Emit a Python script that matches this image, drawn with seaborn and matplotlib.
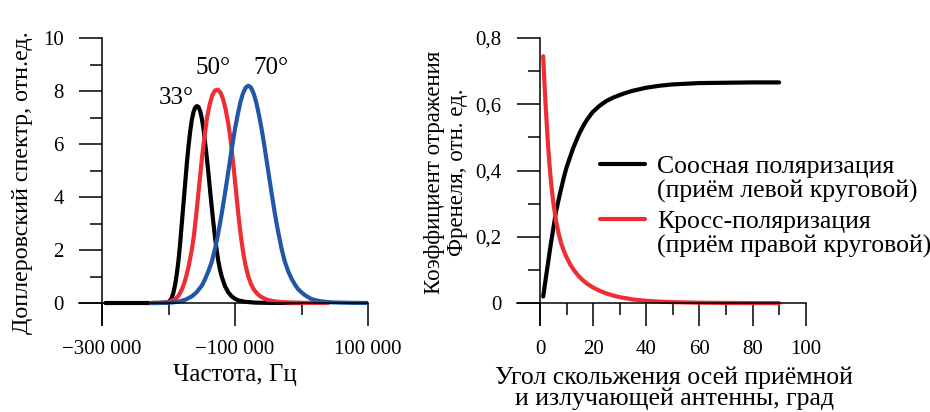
import numpy as np
import pandas as pd
import matplotlib
matplotlib.use("Agg")
import matplotlib.pyplot as plt
import seaborn as sns
from matplotlib.lines import Line2D

# ---------------- Left panel: Doppler spectra ----------------
freq_33 = [-295000, -215000, -205000, -200000, -197500, -195000, -192500, -190000,
           -187500, -185000, -182500, -180000, -177500, -175000, -172500, -170000,
           -167500, -165000, -162500, -160000, -157500, -155000, -152500, -150000,
           -147500, -145000, -142500, -140000, -137500, -135000, -132500, -130000,
           -127500, -125000, -122500, -120000, -115000, -110000, -105000, -100000,
           -95000, -85000, -70000, -50000, 0]
spec_33 = [0, 0, 0.01, 0.04, 0.1, 0.2, 0.4, 0.7,
           1.1, 1.6, 2.25, 3.0, 3.75, 4.5, 5.25, 5.9,
           6.45, 6.9, 7.2, 7.37, 7.43, 7.4, 7.25, 6.98,
           6.6, 6.05, 5.5, 4.9, 4.25, 3.62, 3.02, 2.47,
           1.98, 1.57, 1.25, 1.0, 0.63, 0.4, 0.25, 0.16,
           0.1, 0.045, 0.015, 0.005, 0]

freq_50 = [-227000, -210000, -200000, -190000, -185000, -180000, -175000, -170000,
           -165000, -162000, -160000, -157000, -155000, -152000, -150000, -147000,
           -145000, -142000, -138000, -134000, -130000, -126000, -122000, -118000,
           -114000, -110000, -107000, -105000, -102000, -99000, -96000, -93000,
           -90000, -87000, -84000, -80000, -76000, -72000, -67000, -62000,
           -56000, -50000, -40000, -30000, -15000, 0, 20000, 40000]
spec_50 = [0, 0.01, 0.04, 0.14, 0.27, 0.5, 0.85, 1.35,
           2.0, 2.5, 2.95, 3.65, 4.15, 4.9, 5.4, 6.05,
           6.45, 7.0, 7.5, 7.85, 8.02, 8.05, 7.95, 7.7,
           7.3, 6.75, 6.25, 5.8, 5.1, 4.35, 3.6, 2.9,
           2.3, 1.8, 1.4, 1.0, 0.72, 0.52, 0.36, 0.25,
           0.17, 0.11, 0.06, 0.035, 0.015, 0.007, 0.002, 0]

freq_70 = [-225000, -205000, -195000, -185000, -175000, -165000, -158000, -150000,
           -145000, -140000, -135000, -130000, -127000, -124000, -120000, -116000,
           -112000, -108000, -105000, -100000, -96000, -92000, -88000, -84000,
           -80000, -76000, -72000, -68000, -64000, -60000, -55000, -52000,
           -48000, -44000, -40000, -36000, -30000, -25000, -20000, -15000,
           -10000, -5000, 0, 5000, 10000, 15000, 22000, 30000,
           45000, 70000, 100000]
spec_70 = [0, 0.01, 0.02, 0.05, 0.12, 0.25, 0.4, 0.65,
           0.9, 1.2, 1.55, 2.05, 2.4, 2.8, 3.37, 3.99,
           4.64, 5.3, 5.8, 6.57, 7.1, 7.57, 7.91, 8.13,
           8.2, 8.13, 7.91, 7.57, 7.1, 6.57, 5.8, 5.3,
           4.64, 3.99, 3.37, 2.8, 2.05, 1.55, 1.2, 0.92,
           0.7, 0.52, 0.4, 0.3, 0.22, 0.15, 0.1, 0.06,
           0.025, 0.008, 0]

angle_labels = ["33°", "50°", "70°"]
angle_label_pos = [(-188400, 7.75), (-132600, 8.88), (-46700, 8.88)]

left_xticks = [-300000, -100000, 100000]
left_xticklabels = ["−300 000", "−100 000", "100 000"]
left_yticks = [0, 2, 4, 6, 8, 10]
left_yticklabels = ["0", "2", "4", "6", "8", "10"]

# ---------------- Right panel: Fresnel coefficients ----------------
angle_co = [1.2, 2, 3, 4, 5, 6, 7.5, 9, 10, 11.5, 12.5, 14, 15, 16.5, 17.5, 19, 20,
            22.5, 25, 27.5, 30, 32.5, 35, 40, 45, 50, 55, 60, 70, 80, 90]
refl_co = [0.02, 0.065, 0.12, 0.175, 0.225, 0.275, 0.33, 0.38, 0.41, 0.445, 0.468,
           0.497, 0.515, 0.538, 0.551, 0.568, 0.578, 0.596, 0.61, 0.62, 0.628, 0.635,
           0.641, 0.65, 0.656, 0.66, 0.662, 0.664, 0.665, 0.666, 0.666]

angle_cross = [1.2, 1.5, 1.8, 2.1, 2.4, 2.7, 3, 3.5, 4, 4.5, 5, 6, 7, 8, 9, 10, 11.5,
               13, 14.5, 16, 18, 20, 22.5, 25, 27.5, 30, 35, 40, 45, 50, 60, 70, 80, 90]
refl_cross = [0.745, 0.695, 0.645, 0.6, 0.558, 0.518, 0.48, 0.425, 0.378, 0.338, 0.303,
              0.25, 0.21, 0.18, 0.157, 0.138, 0.115, 0.097, 0.082, 0.07, 0.057, 0.047,
              0.037, 0.029, 0.023, 0.018, 0.011, 0.007, 0.0045, 0.003, 0.0013, 0.0005,
              0.0002, 0]

legend_co = ["Соосная поляризация", "(приём левой круговой)"]
legend_cross = ["Кросс-поляризация", "(приём правой круговой)"]

right_xticks = [0, 20, 40, 60, 80, 100]
right_xticklabels = ["0", "20", "40", "60", "80", "100"]
right_yticks = [0, 0.2, 0.4, 0.6, 0.8]
right_yticklabels = ["0", "0,2", "0,4", "0,6", "0,8"]

BLACK = "#000000"
RED = "#EE2E34"
BLUE = "#2256A6"

sns.set_style("ticks")
plt.rcParams['font.family'] = ['Liberation Serif', 'DejaVu Serif']
plt.rcParams['axes.edgecolor'] = 'black'
plt.rcParams['text.color'] = 'black'
plt.rcParams['xtick.color'] = 'black'
plt.rcParams['ytick.color'] = 'black'
plt.rcParams['axes.labelcolor'] = 'black'

fig = plt.figure(figsize=(9.3, 4.12), dpi=100)
ax1 = fig.add_axes([79 / 930, 87 / 412, 289 / 930, 287 / 412])
ax2 = fig.add_axes([517 / 930, 87 / 412, 288.7 / 930, 287 / 412])

LW = 3.0
df33 = pd.DataFrame({"f": freq_33, "s": spec_33})
df50 = pd.DataFrame({"f": freq_50, "s": spec_50})
df70 = pd.DataFrame({"f": freq_70, "s": spec_70})
for df, c in [(df33, BLACK), (df50, RED), (df70, BLUE)]:
    sns.lineplot(data=df, x="f", y="s", ax=ax1, color=c, linewidth=LW,
                 sort=False, estimator=None, legend=False,
                 solid_capstyle="round", solid_joinstyle="round")
for txt, (x, y) in zip(angle_labels, angle_label_pos):
    ax1.text(x, y, txt, ha="center", va="center", fontsize=18)

dfco = pd.DataFrame({"a": angle_co, "r": refl_co})
dfcr = pd.DataFrame({"a": angle_cross, "r": refl_cross})
sns.lineplot(data=dfco, x="a", y="r", ax=ax2, color=BLACK, linewidth=LW,
             sort=False, estimator=None, legend=False,
             solid_capstyle="round", solid_joinstyle="round")
sns.lineplot(data=dfcr, x="a", y="r", ax=ax2, color=RED, linewidth=LW,
             sort=False, estimator=None, legend=False,
             solid_capstyle="round", solid_joinstyle="round")

# ---- axes styling ----
ax1.set_xlim(-334600, 100000)
ax1.set_ylim(-0.83, 10)
ax2.set_xlim(-8.66, 100)
ax2.set_ylim(-0.066, 0.8)

for ax, xorig in [(ax1, -300000), (ax2, 0)]:
    ax.spines['top'].set_visible(False)
    ax.spines['right'].set_visible(False)
    ax.spines['left'].set_position(('data', xorig))
    ax.spines['bottom'].set_position(('data', 0))
    for s in ('left', 'bottom'):
        ax.spines[s].set_linewidth(1.1)
        ax.spines[s].set_color('black')
    ax.tick_params(which='major', direction='out', length=16.5, width=1.1,
                   labelsize=15, color='black')
    ax.tick_params(which='minor', direction='out', length=8.6, width=1.1, color='black')
    ax.tick_params(axis='x', which='major', pad=10)
    ax.tick_params(axis='y', which='major', pad=11)
    ax.set_facecolor('white')

ax1.set_xticks(left_xticks, labels=left_xticklabels)
ax1.set_xticks([-200000, 0], minor=True)
ax1.set_yticks(left_yticks, labels=left_yticklabels)
ax1.set_yticks([1, 3, 5, 7, 9], minor=True)

ax2.set_xticks(right_xticks, labels=right_xticklabels)
ax2.set_xticks([10, 30, 50, 70, 90], minor=True)
ax2.set_yticks(right_yticks, labels=right_yticklabels)
ax2.set_yticks([0.1, 0.3, 0.5, 0.7], minor=True)

ax1.set_xlabel("Частота, Гц", fontsize=18)
ax1.xaxis.label.set_va('center')
ax1.xaxis.set_label_coords(0.539, -0.174)
ax1.set_ylabel("Доплеровский спектр, отн.ед.", fontsize=17.3)
ax1.yaxis.label.set_va('center')
ax1.yaxis.set_label_coords(-0.197, 0.497)

ax2.set_xlabel("Угол скольжения осей приёмной\nи излучающей антенны, град",
               fontsize=18.5, linespacing=0.9)
ax2.xaxis.label.set_va('center')
ax2.xaxis.set_label_coords(0.545, -0.22)
ax2.set_ylabel("Коэффициент отражения\nФренеля, отн. ед.", fontsize=16.5, linespacing=1.12)
ax2.yaxis.label.set_va('center')
ax2.yaxis.set_label_coords(-0.246, 0.533)

leg_kw = dict(loc='upper left', frameon=False, fontsize=18.5, handlelength=1.75,
              handletextpad=0.47, labelspacing=0.04, borderpad=0, borderaxespad=0)
h_co = [Line2D([], [], color=BLACK, lw=LW), Line2D([], [], color='none')]
h_cr = [Line2D([], [], color=RED, lw=LW), Line2D([], [], color='none')]
leg1 = ax2.legend(h_co, legend_co, bbox_to_anchor=(0.2875, 0.5906), **leg_kw)
ax2.add_artist(leg1)
ax2.legend(h_cr, legend_cross, bbox_to_anchor=(0.2875, 0.399), **leg_kw)

fig.savefig("out.png", dpi=100, facecolor='white')
